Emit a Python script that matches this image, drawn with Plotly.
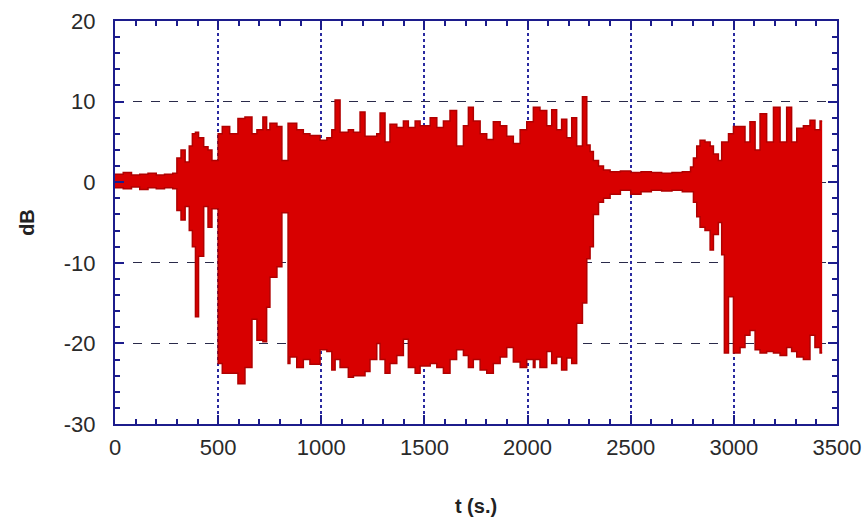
import plotly.graph_objects as go

t_s = [0, 40, 80, 120, 160, 200, 240, 280, 300, 320, 340, 360, 375, 390, 405, 430, 451, 470,
       500, 520, 556, 596, 630, 664, 688, 717, 735, 751, 785, 809, 839,
       848, 881, 913, 945, 994, 1027, 1051, 1067, 1091, 1131, 1156, 1188, 1212, 1236, 1269,
       1285, 1309, 1333, 1366, 1398, 1422, 1455, 1479, 1528, 1560, 1592, 1624, 1656, 1689,
       1713, 1737, 1770, 1802, 1834, 1867, 1899, 1931, 1964, 1996, 2028, 2036, 2060, 2093,
       2117, 2141, 2165, 2190, 2214, 2238, 2266, 2287, 2303, 2319, 2344, 2368, 2400, 2450,
       2500, 2550, 2600, 2650, 2700, 2750, 2790, 2804, 2820, 2836, 2860, 2885, 2901, 2925,
       2941, 2954, 2974, 2998, 3030, 3054, 3078, 3103, 3127, 3159, 3192, 3224, 3256, 3280,
       3305, 3337, 3369, 3393, 3418, 3428]
upper_db = [1.0, 1.2, 0.9, 1.0, 1.1, 0.9, 1.0, 1.1, 3.0, 4.0, 2.5, 4.5, 6.0, 6.2, 5.5, 4.4, 4.0, 2.7,
            6.0, 6.9, 6.0, 7.9, 8.1, 6.0, 6.5, 8.1, 6.5, 7.3, 6.9, 2.7, 7.3,
            7.3, 6.5, 6.0, 5.8, 5.2, 5.5, 6.5, 10.2, 6.2, 6.5, 6.2, 8.7, 5.7, 5.7, 6.0,
            8.6, 5.0, 7.2, 6.8, 7.6, 6.8, 7.6, 7.0, 8.0, 6.8, 7.6, 8.9, 4.5, 7.0,
            9.3, 7.6, 6.0, 5.3, 7.5, 7.0, 5.7, 4.8, 6.5, 7.5, 9.3, 9.3, 8.9, 7.0,
            9.0, 6.5, 7.8, 5.5, 8.0, 4.5, 10.6, 4.6, 3.8, 2.7, 2.0, 1.5, 1.3, 1.4,
            1.2, 1.3, 1.2, 1.1, 1.2, 1.3, 1.9, 3.0, 4.5, 5.2, 5.0, 4.5, 3.5, 2.7,
            5.0, 5.0, 6.0, 6.9, 6.9, 5.0, 7.5, 4.0, 8.5, 5.0, 9.3, 5.0, 9.3, 5.0,
            6.7, 7.0, 7.7, 6.5, 7.6, 7.6]
lower_db = [-0.7, -0.8, -0.6, -0.9, -0.7, -0.8, -0.7, -0.8, -3.5, -4.7, -3.0, -6.0, -8.0, -16.7, -9.2, -3.0, -5.6, -3.3,
            -22.5, -23.7, -23.7, -25.0, -23.0, -17.0, -19.6, -19.8, -15.5, -11.8, -10.5, -3.8, -22.5,
            -21.7, -23.0, -22.0, -22.6, -20.8, -21.0, -23.3, -22.0, -23.0, -24.2, -24.0, -24.0, -23.5, -22.0, -20.0,
            -22.0, -23.7, -22.5, -21.5, -19.5, -23.0, -23.7, -22.8, -22.5, -23.0, -23.7, -22.0, -20.8, -21.5,
            -23.0, -22.0, -23.3, -23.7, -22.5, -21.7, -20.5, -22.3, -23.0, -22.0, -23.0, -22.0, -23.0, -21.0,
            -22.5, -21.7, -23.3, -21.8, -22.5, -17.5, -15.0, -9.5, -8.0, -4.0, -2.5, -2.0, -1.5, -1.0,
            -1.5, -1.2, -1.0, -1.1, -1.0, -1.2, -1.2, -2.5, -4.3, -5.6, -6.0, -8.4, -6.5, -5.0,
            -9.0, -21.2, -14.2, -21.2, -20.5, -19.0, -18.4, -20.8, -21.2, -21.0, -21.2, -21.5, -20.5, -21.0,
            -21.7, -22.0, -19.0, -20.5, -21.2, -21.2]

x_ticks = [0, 500, 1000, 1500, 2000, 2500, 3000, 3500]
y_ticks = [-30, -20, -10, 0, 10, 20]

RED = "#d80000"
EDGE = "#b00000"
NAVY = "#1c1c8c"

fig = go.Figure()
fig.add_trace(go.Scatter(x=t_s, y=upper_db, mode="lines", line=dict(color=EDGE, width=1.5, shape="hv"),
                         hoverinfo="skip", showlegend=False))
fig.add_trace(go.Scatter(x=t_s, y=lower_db, mode="lines", line=dict(color=EDGE, width=1.5, shape="hv"),
                         fill="tonexty", fillcolor=RED, hoverinfo="skip", showlegend=False))

FAM = "Liberation Sans, Arial, sans-serif"
tickfont = dict(family=FAM, size=22, color="#2a2a2a")
titlefont = dict(family=FAM, size=20, color="#222222", weight="bold")

fig.update_layout(
    width=866, height=523,
    margin=dict(l=115, r=29, t=21, b=99, autoexpand=False),
    paper_bgcolor="white", plot_bgcolor="white",
    xaxis=dict(range=[0, 3500], tickvals=x_ticks, ticktext=[str(v) for v in x_ticks],
               showline=True, linecolor=NAVY, linewidth=2, mirror="allticks",
               ticks="inside", ticklen=9, tickcolor=NAVY, tickwidth=1.5,
               minor=dict(dtick=100, tick0=0, ticks="inside", ticklen=5, tickcolor=NAVY, tickwidth=1.5, showgrid=False),
               showgrid=True, gridcolor="#2a2aa0", griddash="dot", gridwidth=1.5,
               zeroline=False, tickfont=tickfont, ticklabelstandoff=3,
               title=dict(text="t (s.)", font=titlefont, standoff=40)),
    yaxis=dict(range=[-30, 20], tickvals=y_ticks, ticktext=[str(v) for v in y_ticks],
               showline=True, linecolor=NAVY, linewidth=2, mirror="allticks",
               ticks="inside", ticklen=9, tickcolor=NAVY, tickwidth=1.5,
               minor=dict(dtick=2, tick0=0, ticks="inside", ticklen=5, tickcolor=NAVY, tickwidth=1.5, showgrid=False),
               showgrid=True, gridcolor="#2a2a4a", griddash="dash", gridwidth=1.3,
               zeroline=False, tickfont=tickfont, ticklabelstandoff=13,
               title=dict(text="dB", font=titlefont, standoff=24)),
)

fig.write_html("out.html")
